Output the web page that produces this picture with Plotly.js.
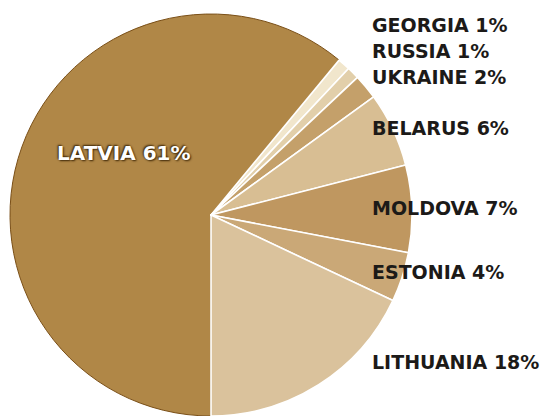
<!DOCTYPE html>
<html><head><meta charset="utf-8">
<script src="https://cdn.plot.ly/plotly-3.0.1.min.js"></script>
<style>html,body{margin:0;padding:0;background:#fff}#chart{width:555px;height:416px}</style>
</head><body><div id="chart"></div>
<script>
const countries = ["LATVIA","GEORGIA","RUSSIA","UKRAINE","BELARUS","MOLDOVA","ESTONIA","LITHUANIA"];
const shares = [61,1,1,2,6,7,4,18];
const sliceColors = ["#b08747","#f1e6cc","#e2cfaa","#c4a06a","#d8be93","#bf9760","#caa877","#dac29c"];
const labelY = [153,25,51,77,128,208,272,362];

const W=555,H=416;
const cx=211, cy=215, r=201;
const trace = {
  type:"pie", values:shares, labels:countries, sort:false,
  direction:"clockwise", rotation:180,
  marker:{colors:sliceColors, line:{color:["#7a4f17","#fff","#fff","#fff","#fff","#fff","#fff","#fff"], width:[1,1.6,1.6,1.6,1.6,1.6,1.6,1.6]}},
  textinfo:"none", hoverinfo:"label+percent",
  domain:{x:[(cx-r)/W,(cx+r)/W], y:[(H-cy-r)/H,(H-cy+r)/H]}
};
const anns = countries.map((c,i)=>{
  const t = c+" "+shares[i]+"%";
  if(i===0){
    return {text:t, xref:"paper", yref:"paper", x:55/W, y:1-labelY[i]/H, xanchor:"left", yanchor:"middle", showarrow:false,
      font:{family:"DejaVu Sans", size:20, color:"#fff", weight:"bold", shadow:"1px 1px 2px #3d2606, -1px -1px 2px #3d2606"}};
  }
  return {text:t, xref:"paper", yref:"paper", x:370/W, y:1-labelY[i]/H, xanchor:"left", yanchor:"middle", showarrow:false,
    font:{family:"DejaVu Sans", size:19, color:"#1c1a18", weight:"bold"}};
});
Plotly.newPlot("chart",[trace],{width:W,height:H,margin:{l:0,r:0,t:0,b:0},showlegend:false,
  paper_bgcolor:"#fff", annotations:anns},{displayModeBar:false});
</script></body></html>
